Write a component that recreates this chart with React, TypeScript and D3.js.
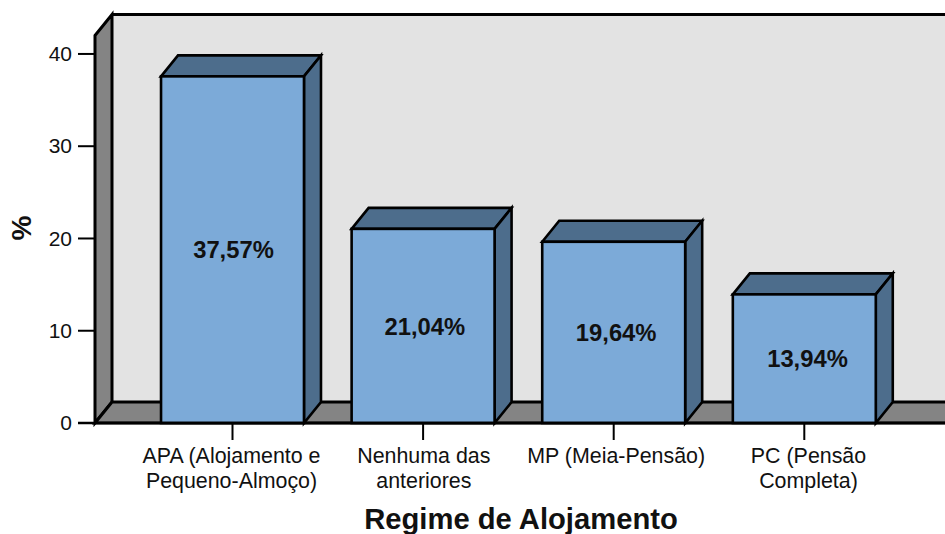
import React from "react";
import * as d3 from "d3";

const categories = ["APA (Alojamento e|Pequeno-Almoço)", "Nenhuma das|anteriores", "MP (Meia-Pensão)", "PC (Pensão|Completa)"];
const values = [37.57, 21.04, 19.64, 13.94];
const valueLabels = ["37,57%", "21,04%", "19,64%", "13,94%"];
const yTicks = [0, 10, 20, 30, 40];
const yTitle = "%";
const xTitle = "Regime de Alojamento";

const W = 945, H = 534;
const dx = 17, dy = 21;
const y = d3.scaleLinear().domain([0, 42]).range([423, 35.5]);
const x = d3.scaleBand<string>().domain(categories).range([137.2, 899.6]).paddingInner(0.25).paddingOuter(0.125);
const catLabelX = d3.scalePoint<string>().domain(categories).range([231.5, 808.5]);
const valueLabelX = d3.scalePoint<string>().domain(categories).range([233.5, 807.5]);
const font = "'Liberation Sans', Arial, sans-serif";
const line = { stroke: "#000", strokeWidth: 3, strokeLinejoin: "miter" as const };
const barLine = { stroke: "#000", strokeWidth: 2.6, strokeLinejoin: "miter" as const };
const poly = (p: number[][]) => d3.line()(p as [number, number][]) + "Z";

export default function App() {
  const x0 = 95, x1 = 945 + 30, y0 = y(0), yT = y(42);
  return (
    <svg width={W} height={H} style={{ position: "absolute", left: 0, top: 0 }} fontFamily={font}>
      <path d={poly([[x0 + dx, yT - dy], [x1, yT - dy], [x1, y0 - dy], [x0 + dx, y0 - dy]])} fill="#e3e3e3" stroke="none" />
      <path d={poly([[x0, yT], [x0 + dx, yT - dy], [x0 + dx, y0 - dy], [x0, y0]])} fill="#848484" {...line} />
      <path d={poly([[x0, y0], [x0 + dx, y0 - dy], [x1 + dx, y0 - dy], [x1, y0]])} fill="#848484" {...line} />
      <path d={`M${x0 + dx},${yT - dy}H${W}`} {...line} fill="none" />
      {yTicks.map(t => (
        <g key={t}>
          <line x1={x0 - 17} x2={x0} y1={y(t)} y2={y(t)} stroke="#000" strokeWidth={2} />
          <text x={x0 - 23} y={y(t) - 0.5} dy="0.36em" textAnchor="end" fontSize={21} fill="#111">{t}</text>
        </g>
      ))}
      {categories.map((c, i) => {
        const l = x(c)!, w = x.bandwidth(), r = l + w, top = y(values[i]);
        return (
          <g key={c}>
            <path d={poly([[l, top], [l + dx, top - dy], [r + dx, top - dy], [r, top]])} fill="#4d6d8c" {...barLine} />
            <path d={poly([[r, top], [r + dx, top - dy], [r + dx, y0 - dy], [r, y0]])} fill="#4d6d8c" {...barLine} />
            <rect x={l} y={top} width={w} height={y0 - top} fill="#7caad8" {...barLine} />
            <text x={valueLabelX(c)!} y={(top + y0) / 2} dy="0.36em" textAnchor="middle" fontSize={23.8} fontWeight="bold" fill="#111">{valueLabels[i]}</text>
          </g>
        );
      })}
      <line x1={x0 - 17} x2={W} y1={y0} y2={y0} stroke="#000" strokeWidth={2.4} />
      {categories.map(c => {
        const cx = x(c)! + x.bandwidth() / 2;
        return (
          <g key={c + "t"}>
            <line x1={cx} x2={cx} y1={y0} y2={y0 + 17} stroke="#000" strokeWidth={2} />
            {c.split("|").map((s, j) => (
              <text key={j} x={catLabelX(c)!} y={463 + j * 24.5} textAnchor="middle" fontSize={21.4} fill="#111">{s}</text>
            ))}
          </g>
        );
      })}
      <text x={521} y={529} textAnchor="middle" fontSize={29.2} fontWeight="bold" fill="#111">{xTitle}</text>
      <text transform="translate(31,228) rotate(-90)" textAnchor="middle" fontSize={28} fontWeight="bold" fill="#111">{yTitle}</text>
    </svg>
  );
}
